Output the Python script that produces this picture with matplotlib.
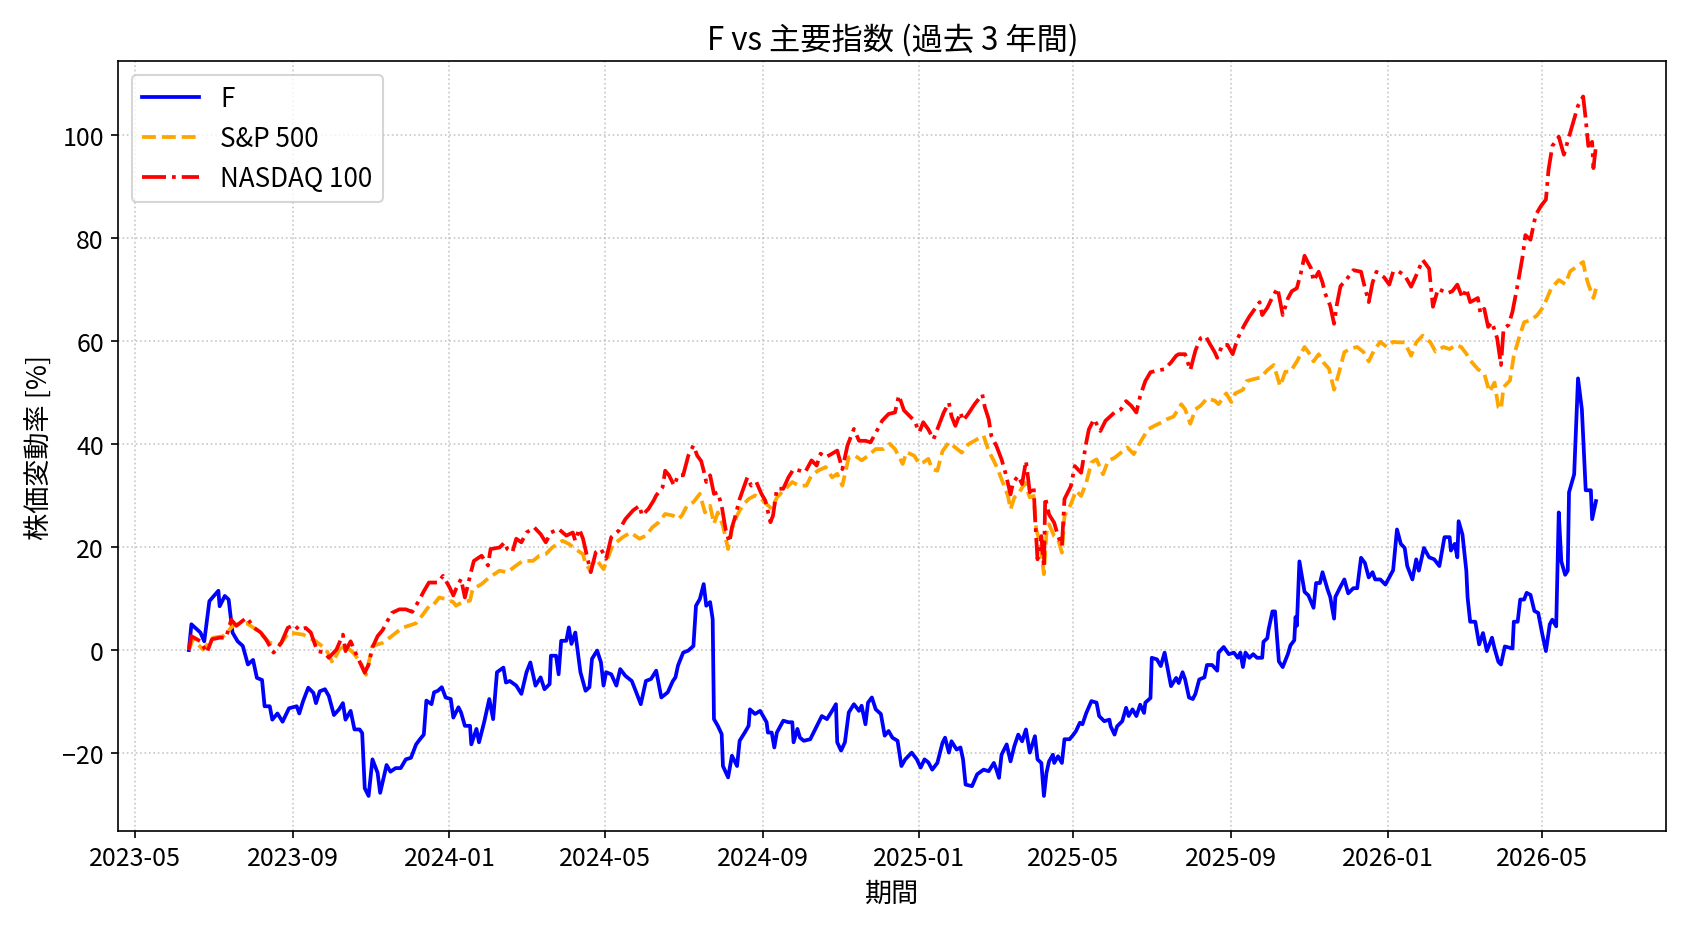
import matplotlib
matplotlib.use("Agg")
import matplotlib.pyplot as plt
import matplotlib.dates as mdates
import pandas as pd

plt.rcParams['font.family'] = ['Noto Sans CJK JP', 'DejaVu Sans']

# ---- data (cumulative % change) ----
start_date = "2023-06-12"  # day 0

f_days = [
    0, 2, 9, 12, 16, 23, 24, 28, 31, 34,
    38, 42, 46, 50, 53, 57, 59, 63, 65, 69,
    73, 78, 84, 86, 89, 93, 97, 99, 102, 106,
    109, 113, 117, 120, 122, 126, 129, 133, 135, 137,
    140, 143, 147, 149, 154, 157, 161, 165, 169, 173,
    177, 180, 183, 185, 189, 191, 194, 197, 200, 204,
    206, 210, 212, 215, 219, 220, 224, 226, 230, 234,
    237, 240, 245, 247, 250, 255, 259, 263, 266, 270,
    274, 277, 281, 282, 286, 288, 290, 294, 296, 298,
    301, 305, 309, 312, 314, 318, 321, 323, 325, 329,
    333, 336, 340, 345, 348, 352, 356, 360, 364, 368,
    373, 377, 379, 381, 385, 389, 393, 395, 398, 401,
    403, 406, 408, 409, 412, 415, 416, 420, 423, 427,
    429, 433, 436, 437, 441, 445, 450, 451, 454, 456,
    458, 463, 467, 470, 471, 474, 476, 479, 484, 488,
    493, 497, 501, 504, 505, 508, 511, 514, 518, 522,
    524, 527, 529, 532, 535, 539, 542, 545, 548, 552,
    555, 558, 563, 567, 570, 573, 576, 579, 583, 587,
    589, 592, 594, 598, 601, 603, 605, 610, 614, 619,
    623, 627, 629, 631, 633, 637, 640, 643, 646, 649,
    652, 655, 659, 661, 664, 666, 668, 670, 673, 674,
    677, 680, 682, 686, 689, 691, 694, 696, 699, 703,
    707, 709, 713, 717, 718, 721, 723, 727, 730, 732,
    735, 738, 741, 744, 745, 749, 750, 754, 757, 760,
    765, 769, 771, 774, 776, 779, 782, 784, 787, 791,
    793, 797, 801, 802, 806, 810, 814, 817, 819, 821,
    823, 826, 829, 832, 836, 837, 840, 841, 844, 846,
    849, 852, 856, 858, 861, 862, 863, 865, 869, 872,
    876, 878, 881, 883, 887, 889, 892, 893, 897, 900,
    903, 907, 910, 913, 916, 919, 922, 924, 928, 932,
    935, 938, 941, 944, 947, 949, 953, 956, 958, 962,
    966, 970, 974, 978, 982, 983, 986, 988, 989, 992,
    995, 996, 998, 1002, 1005, 1008, 1011, 1015, 1017, 1020,
    1022, 1025, 1031, 1032, 1035, 1037, 1040, 1042, 1045, 1048,
    1051, 1054, 1057, 1060, 1062, 1065, 1067, 1069, 1072, 1074,
    1075, 1079, 1082, 1085, 1088, 1092, 1093, 1096,
]
f_vals = [
    0, 5, 3.4, 1.7, 9.5, 11.5, 8.5, 10.5, 9.8, 3.4,
    1.7, 0.8, -2.8, -1.9, -5.4, -5.8, -10.9, -10.9, -13.5, -12.3,
    -13.9, -11.3, -10.9, -12.3, -9.9, -7.3, -8.3, -10.3, -8.0, -7.6,
    -8.9, -12.6, -11.5, -10.3, -13.5, -11.8, -15.4, -15.4, -16.1, -26.8,
    -28.3, -21.2, -23.8, -27.7, -22.3, -23.6, -22.9, -22.9, -21.2, -20.9,
    -18.3, -17.3, -16.4, -9.8, -10.5, -8.2, -7.9, -7.2, -9.2, -9.5,
    -13.1, -11.1, -12.1, -14.7, -14.7, -18.3, -15.3, -17.9, -14.0, -9.5,
    -13.4, -4.3, -3.4, -6.3, -6.0, -6.9, -8.5, -4.3, -2.4, -6.9,
    -5.3, -7.6, -6.6, -1.1, -1.1, -4.7, 1.8, 1.8, 4.4, 1.2,
    3.4, -4.3, -7.9, -7.2, -1.7, -0.1, -2.4, -6.9, -4.3, -4.7,
    -6.9, -3.7, -5.0, -6.0, -7.9, -10.5, -6.0, -5.6, -4.0, -9.2,
    -8.2, -6.0, -5.3, -3.0, -0.5, -0.1, 0.8, 8.6, 9.9, 12.8,
    8.6, 9.3, 6.0, -13.4, -14.7, -16.3, -22.5, -24.7, -20.5, -22.5,
    -17.6, -16.0, -14.7, -11.5, -12.4, -11.8, -14.0, -16.0, -16.0, -18.9,
    -16.0, -13.7, -14.0, -14.0, -17.9, -15.3, -17.0, -17.6, -17.3, -15.3,
    -12.8, -13.4, -11.8, -10.5, -17.9, -19.5, -17.9, -12.1, -10.5, -11.8,
    -10.8, -14.4, -10.2, -9.2, -11.5, -12.4, -16.6, -15.7, -17.0, -17.6,
    -22.5, -21.2, -19.9, -21.2, -22.8, -21.2, -21.8, -23.2, -21.9, -18.0,
    -17.0, -19.9, -17.7, -19.3, -18.9, -21.2, -26.1, -26.4, -24.1, -23.2,
    -23.5, -21.9, -23.2, -24.8, -20.3, -18.3, -21.6, -18.6, -16.4, -17.7,
    -15.4, -19.9, -16.7, -21.2, -21.9, -28.3, -23.8, -21.6, -20.3, -21.9,
    -20.6, -21.9, -17.3, -17.3, -16.4, -15.7, -14.1, -14.4, -12.2, -9.9,
    -10.2, -12.8, -13.8, -13.5, -14.8, -16.4, -14.8, -13.8, -11.2, -12.8,
    -11.5, -12.8, -10.6, -12.2, -10.2, -9.3, -1.5, -1.8, -3.1, -0.5,
    -7.0, -5.4, -6.4, -4.3, -5.7, -9.2, -9.5, -8.5, -5.7, -5.3,
    -2.9, -2.9, -4.0, -0.5, 0.6, -0.8, -0.5, -1.5, -0.5, -3.3,
    -0.5, -1.5, -0.8, -1.5, -1.5, 1.6, 2.3, 4.0, 7.5, 7.5,
    -2.2, -3.3, -0.8, 0.9, 1.9, 6.4, 4.7, 17.2, 11.3, 10.6,
    8.2, 13.0, 13.0, 15.1, 11.7, 10.3, 6.1, 10.3, 12.3, 13.7,
    11.0, 12.0, 12.0, 17.9, 16.9, 14.1, 15.1, 13.7, 13.7, 12.7,
    14.1, 15.5, 23.4, 20.6, 19.8, 16.3, 13.7, 17.6, 15.4, 19.8,
    18.0, 17.6, 16.3, 21.9, 21.9, 19.3, 20.6, 18.0, 25.0, 22.4,
    15.4, 10.2, 5.5, 5.5, 1.1, 3.3, -0.2, 2.4, 0.3, -2.3,
    -2.8, 0.7, 0.3, 5.5, 5.5, 9.8, 9.8, 11.1, 10.7, 7.6,
    7.2, 3.3, -0.2, 5.0, 5.9, 4.6, 26.7, 17.2, 14.6, 15.4,
    30.6, 34.1, 52.7, 46.7, 31.0, 31.0, 25.4, 28.9,
]

sp_days = [
    0, 3, 11, 19, 27, 35, 45, 53, 63, 71,
    78, 89, 99, 107, 112, 117, 122, 128, 134, 138,
    143, 151, 158, 166, 177, 182, 187, 190, 195, 200,
    206, 208, 213, 219, 221, 228, 234, 242, 248, 255,
    260, 268, 273, 278, 283, 291, 296, 301, 307, 309,
    312, 317, 323, 330, 338, 344, 351, 356, 361, 366,
    371, 377, 381, 384, 388, 393, 398, 402, 406, 409,
    412, 416, 420, 423, 427, 431, 436, 441, 446, 450,
    454, 458, 463, 470, 475, 481, 485, 490, 496, 501,
    505, 509, 514, 519, 524, 529, 535, 541, 546, 550,
    556, 559, 565, 569, 572, 576, 579, 583, 587, 592,
    597, 602, 607, 614, 619, 623, 627, 630, 634, 638,
    640, 643, 647, 651, 655, 658, 660, 663, 666, 668,
    670, 674, 677, 680, 682, 687, 691, 695, 699, 703,
    707, 712, 716, 721, 726, 731, 736, 741, 747, 752,
    757, 762, 767, 773, 776, 780, 784, 788, 793, 799,
    802, 808, 812, 815, 821, 824, 830, 835, 840, 845,
    850, 854, 858, 863, 869, 872, 876, 880, 884, 888,
    892, 896, 900, 905, 910, 915, 919, 923, 928, 933,
    938, 942, 947, 952, 956, 961, 967, 971, 977, 982,
    987, 991, 995, 998, 1004, 1009, 1013, 1017, 1020, 1022,
    1024, 1029, 1032, 1036, 1040, 1045, 1050, 1055, 1061, 1067,
    1072, 1076, 1081, 1086, 1088, 1090, 1094, 1096,
]
sp_vals = [
    0, 2.1, 0.1, 2.4, 2.7, 4.9, 5.2, 3.9, 1.4, 1.1,
    3.4, 3.0, 1.7, 0.1, -2.5, 0.1, 0.8, -0.5, -2.5, -4.8,
    0.8, 1.4, 2.7, 4.3, 5.2, 6.8, 8.5, 8.6, 10.2, 9.9,
    9.3, 8.6, 9.3, 9.6, 11.8, 12.8, 14.1, 15.4, 15.1, 16.4,
    17.3, 17.3, 18.3, 18.6, 19.9, 21.2, 20.6, 19.6, 18.6, 16.7,
    15.7, 17.7, 15.7, 20.3, 21.9, 22.8, 21.6, 22.2, 23.8, 24.8,
    26.4, 26.1, 25.4, 26.1, 28.0, 28.7, 30.3, 26.7, 28.0, 24.5,
    26.7, 24.1, 19.6, 23.5, 26.1, 28.0, 29.3, 30.0, 29.3, 28.3,
    27.4, 29.6, 30.9, 32.6, 31.9, 31.9, 33.9, 34.8, 35.5, 33.5,
    34.2, 31.9, 37.4, 37.7, 36.8, 37.7, 39.0, 39.0, 40.0, 39.0,
    36.1, 38.4, 37.7, 36.1, 36.4, 37.1, 35.1, 34.8, 38.6, 40.3,
    39.3, 38.3, 39.9, 40.9, 41.6, 38.6, 36.7, 35.1, 32.5, 29.9,
    27.3, 29.6, 30.6, 32.5, 29.6, 29.9, 23.4, 20.8, 14.7, 22.8,
    24.4, 22.1, 21.5, 18.9, 26.0, 28.3, 30.9, 29.9, 32.5, 36.4,
    37.0, 34.1, 36.7, 37.3, 38.3, 39.3, 38.0, 40.3, 42.8, 43.5,
    44.1, 44.8, 45.3, 47.7, 46.7, 43.9, 46.7, 47.4, 48.8, 48.4,
    47.7, 49.8, 48.1, 49.8, 50.5, 52.2, 52.6, 52.9, 54.3, 55.3,
    51.2, 54.0, 54.0, 56.0, 58.8, 57.8, 56.0, 57.4, 55.7, 54.6,
    50.5, 54.0, 57.8, 58.5, 58.8, 57.8, 56.0, 58.1, 59.8, 58.8,
    59.8, 59.7, 59.7, 57.1, 59.7, 61.0, 59.7, 57.9, 58.8, 58.4,
    59.2, 58.8, 57.5, 56.2, 54.5, 53.6, 50.1, 51.9, 47.1, 46.7,
    51.0, 52.3, 57.1, 60.5, 63.6, 64.0, 64.9, 66.6, 70.1, 71.8,
    71.0, 73.5, 74.4, 75.3, 72.7, 71.0, 68.3, 70.1,
]

nq_days = [
    0, 2, 9, 14, 18, 24, 29, 33, 37, 45,
    51, 56, 60, 66, 72, 77, 82, 86, 91, 95,
    100, 106, 109, 115, 120, 122, 126, 131, 137, 140,
    143, 147, 151, 158, 164, 169, 174, 179, 183, 187,
    190, 194, 198, 203, 206, 208, 212, 215, 220, 222,
    228, 233, 235, 242, 246, 248, 252, 255, 259, 263,
    269, 274, 278, 282, 288, 294, 299, 301, 304, 307,
    311, 313, 317, 321, 325, 329, 335, 340, 346, 351,
    353, 358, 362, 364, 369, 371, 374, 378, 381, 385,
    389, 393, 396, 399, 401, 403, 406, 409, 412, 415,
    418, 421, 423, 425, 429, 435, 438, 442, 446, 449,
    453, 455, 458, 463, 467, 471, 476, 480, 485, 489,
    492, 496, 501, 505, 509, 513, 518, 522, 527, 531,
    536, 540, 545, 550, 553, 557, 561, 565, 569, 572,
    576, 580, 584, 588, 592, 594, 597, 601, 603, 607,
    612, 618, 620, 623, 625, 629, 633, 636, 640, 642,
    646, 649, 652, 655, 658, 659, 661, 664, 666, 667,
    670, 674, 677, 680, 682, 687, 690, 695, 699, 701,
    705, 710, 714, 721, 726, 730, 734, 738, 741, 745,
    749, 754, 760, 765, 769, 771, 776, 780, 784, 788,
    792, 795, 799, 801, 805, 809, 813, 817, 822, 826,
    830, 834, 836, 840, 844, 848, 852, 856, 859, 863,
    866, 869, 871, 874, 876, 880, 883, 885, 889, 892,
    894, 897, 902, 907, 913, 915, 919, 922, 925, 931,
    935, 938, 942, 947, 952, 956, 961, 966, 969, 973,
    977, 980, 984, 988, 992, 995, 998, 1004, 1006, 1009,
    1012, 1015, 1019, 1022, 1024, 1028, 1031, 1035, 1039, 1041,
    1045, 1049, 1053, 1057, 1059, 1062, 1067, 1071, 1075, 1079,
    1082, 1086, 1088, 1090, 1093, 1094, 1096,
]
nq_vals = [
    0, 2.7, 1.7, -0.5, 2.1, 2.4, 2.4, 5.9, 4.7, 6.3,
    4.3, 3.4, 2.1, -0.5, 1.4, 4.3, 4.9, 3.9, 4.3, 3.4,
    -0.2, -0.5, -1.5, 0.1, 3.0, -0.2, 1.7, -1.2, -4.4, -2.8,
    0.5, 2.7, 3.9, 7.2, 7.9, 7.9, 7.4, 9.5, 11.4, 13.1,
    13.1, 13.1, 14.4, 12.2, 10.6, 11.8, 13.8, 10.2, 15.4, 17.3,
    18.3, 16.4, 19.6, 19.9, 20.9, 19.6, 19.0, 21.6, 20.9, 22.8,
    23.8, 22.5, 20.9, 22.8, 23.5, 22.2, 22.8, 21.2, 23.5, 21.6,
    17.3, 15.1, 19.0, 19.6, 17.7, 21.9, 23.2, 25.4, 27.1, 28.0,
    26.1, 27.4, 29.0, 30.0, 31.6, 34.8, 33.9, 31.9, 33.9, 33.9,
    37.7, 39.7, 37.7, 36.7, 34.8, 32.6, 33.9, 30.3, 30.6, 28.0,
    23.5, 20.9, 23.8, 25.4, 29.3, 33.5, 31.9, 32.6, 30.3, 29.0,
    24.8, 26.1, 31.3, 31.3, 33.5, 35.1, 34.8, 34.5, 36.8, 35.8,
    38.1, 37.4, 38.1, 38.7, 35.1, 39.7, 42.9, 40.6, 40.6, 40.3,
    42.6, 44.5, 45.8, 46.1, 49.4, 46.5, 45.5, 44.5, 42.3, 44.2,
    42.8, 40.9, 43.5, 46.1, 48.0, 45.4, 43.5, 46.1, 44.5, 45.8,
    47.7, 49.6, 47.1, 44.8, 41.6, 39.6, 37.0, 34.4, 30.2, 32.5,
    33.8, 32.2, 36.7, 30.6, 31.8, 26.0, 17.6, 22.1, 16.0, 29.6,
    26.3, 24.7, 22.1, 20.2, 29.3, 31.8, 35.7, 34.4, 40.3, 42.8,
    44.8, 42.5, 44.5, 46.1, 46.7, 48.3, 47.4, 46.1, 49.3, 52.2,
    53.9, 54.2, 54.5, 55.8, 57.1, 57.4, 57.4, 54.3, 58.1, 60.5,
    60.9, 59.5, 57.8, 56.7, 59.2, 59.2, 57.4, 60.5, 63.0, 64.7,
    66.1, 67.5, 65.0, 66.4, 68.5, 70.2, 65.0, 68.2, 69.6, 70.2,
    73.0, 76.5, 75.5, 74.1, 71.6, 73.4, 71.3, 69.2, 66.8, 63.3,
    66.8, 70.6, 72.0, 73.7, 73.4, 71.3, 67.5, 71.3, 73.4, 72.3,
    70.9, 73.4, 73.5, 72.7, 70.5, 72.7, 75.7, 74.0, 66.6, 70.1,
    69.6, 69.2, 69.6, 70.9, 68.3, 70.1, 67.5, 68.3, 65.3, 66.2,
    62.7, 63.6, 60.5, 55.3, 62.3, 63.1, 65.7, 70.9, 76.6, 80.5,
    79.6, 84.4, 86.1, 87.4, 93.1, 97.8, 99.6, 96.1, 99.6, 103.0,
    105.6, 107.4, 103.0, 97.8, 98.6, 93.5, 97.8,
]


def to_dates(days):
    return pd.Timestamp(start_date) + pd.to_timedelta(days, unit="D")


fig, ax = plt.subplots(figsize=(11.253, 6.213), dpi=150)
fig.subplots_adjust(left=0.0702, right=0.9872, top=0.933, bottom=0.1074)

ax.plot(to_dates(f_days), f_vals, color="blue", linewidth=1.8, label="F")
ax.plot(to_dates(sp_days), sp_vals, color="orange", linestyle="--", linewidth=1.8, label="S&P 500")
ax.plot(to_dates(nq_days), nq_vals, color="red", linestyle="-.", linewidth=1.8, label="NASDAQ 100")

ax.xaxis.set_major_locator(mdates.MonthLocator(bymonth=[1, 5, 9]))
ax.xaxis.set_major_formatter(mdates.DateFormatter("%Y-%m"))
ax.tick_params(labelsize=12)

ax.set_title("F vs 主要指数 (過去 3 年間)", fontsize=15)
ax.set_xlabel("期間", fontsize=13)
ax.set_ylabel("株価変動率 [%]", fontsize=13)
ax.grid(True, linestyle=":", color="#b0b0b0", alpha=0.7)
ax.legend(loc="upper left", fontsize=12.5, handlelength=2.2)

fig.savefig("out.png", dpi=150)
